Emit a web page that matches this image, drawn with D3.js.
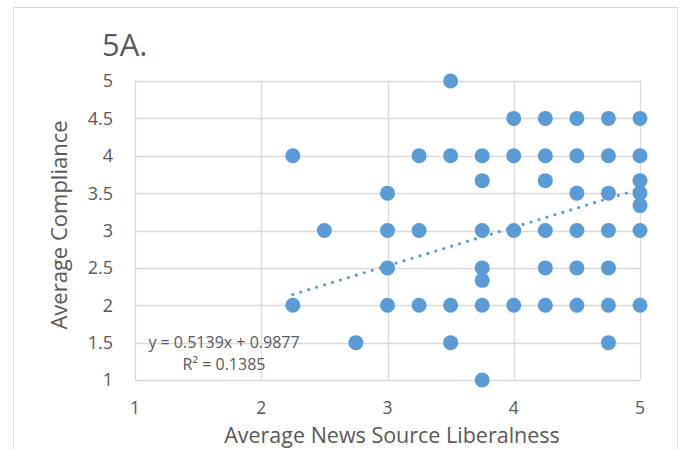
<!DOCTYPE html>
<html>
<head>
<meta charset="utf-8">
<script src="https://cdn.jsdelivr.net/npm/d3@7"></script>
<style>
  body { margin: 0; background: #fff; }
  svg { display: block; font-family: "Open Sans", sans-serif; }
</style>
</head>
<body>
<svg id="chart" width="684" height="450"></svg>
<script>
// points
const liberalness = [
    3.5,
    4, 4.25, 4.5, 4.75, 5,
    2.25, 3.25, 3.5, 3.75, 4, 4.25, 4.5, 4.75, 5,
    3.75, 4.25, 5,
    3, 4.5, 4.75, 5,
    5,
    2.5, 3, 3.25, 3.75, 4, 4.25, 4.5, 4.75, 5,
    3, 3.75, 4.25, 4.5, 4.75,
    3.75,
    2.25, 3, 3.25, 3.5, 3.75, 4, 4.25, 4.5, 4.75, 5,
    2.75, 3.5, 4.75,
    3.75
];
const compliance = [
    5,
    4.5, 4.5, 4.5, 4.5, 4.5,
    4, 4, 4, 4, 4, 4, 4, 4, 4,
    3.667, 3.667, 3.667,
    3.5, 3.5, 3.5, 3.5,
    3.333,
    3, 3, 3, 3, 3, 3, 3, 3, 3,
    2.5, 2.5, 2.5, 2.5, 2.5,
    2.333,
    2, 2, 2, 2, 2, 2, 2, 2, 2, 2,
    1.5, 1.5, 1.5,
    1
];
const xTicks = [1, 2, 3, 4, 5];
const yTicks = [1, 1.5, 2, 2.5, 3, 3.5, 4, 4.5, 5];
const trend = { slope: 0.5139, intercept: 0.9877, from: 2.25, to: 5 };
const trendLabels = ['y = 0.5139x + 0.9877', 'R² = 0.1385'];

const svg = d3.select('#chart');
const grey = '#d9d9d9';
const text = '#595959';
const blue = '#5b9bd5';

// outer chart frame
svg.append('rect')
    .attr('x', 13.5).attr('y', 7.5)
    .attr('width', 664).attr('height', 460)
    .attr('fill', 'none')
    .attr('stroke', grey)
    .attr('stroke-width', 1);

const x = d3.scaleLinear().domain([1, 5]).range([135, 640]);
const y = d3.scaleLinear().domain([1, 5]).range([380, 81]);

const grid = svg.append('g');
grid.selectAll('.hy')
    .data(yTicks)
    .enter()
    .append('line')
    .attr('x1', x(1)).attr('x2', x(5))
    .attr('y1', d => Math.round(y(d)) + 0.5)
    .attr('y2', d => Math.round(y(d)) + 0.5)
    .attr('stroke', grey)
    .attr('stroke-width', 1.3);
grid.selectAll('.vx')
    .data(xTicks)
    .enter()
    .append('line')
    .attr('y1', y(1)).attr('y2', y(5))
    .attr('x1', d => Math.round(x(d)) + 0.5)
    .attr('x2', d => Math.round(x(d)) + 0.5)
    .attr('stroke', grey)
    .attr('stroke-width', 1.3);

// tick labels
svg.append('g').selectAll('text')
    .data(yTicks)
    .enter()
    .append('text')
    .attr('x', 113)
    .attr('y', d => y(d))
    .attr('dy', '0.36em')
    .attr('text-anchor', 'end')
    .attr('font-size', 18)
    .attr('fill', text)
    .text(d => d);

svg.append('g').selectAll('text')
    .data(xTicks)
    .enter()
    .append('text')
    .attr('x', d => x(d))
    .attr('y', 414)
    .attr('text-anchor', 'middle')
    .attr('font-size', 17.5)
    .attr('fill', text)
    .text(d => d);

// titles
svg.append('text')
    .attr('x', 102)
    .attr('y', 56)
    .attr('font-size', 31)
    .attr('fill', text)
    .text('5A.');

svg.append('text')
    .attr('x', 392)
    .attr('y', 443)
    .attr('text-anchor', 'middle')
    .attr('font-size', 21.5)
    .attr('fill', text)
    .text('Average News Source Liberalness');

svg.append('text')
    .attr('transform', 'translate(67, 225) rotate(-90)')
    .attr('text-anchor', 'middle')
    .attr('font-size', 22)
    .attr('fill', text)
    .text('Average Compliance');

// points
svg.append('g').selectAll('circle')
    .data(liberalness.map((v, i) => ({ x: v, y: compliance[i] })))
    .enter()
    .append('circle')
    .attr('cx', d => x(d.x))
    .attr('cy', d => y(d.y))
    .attr('r', 7.5)
    .attr('fill', blue);

// linear trendline
svg.append('line')
    .attr('x1', x(trend.from))
    .attr('y1', y(trend.slope * trend.from + trend.intercept))
    .attr('x2', x(trend.to))
    .attr('y2', y(trend.slope * trend.to + trend.intercept))
    .attr('stroke', blue)
    .attr('stroke-width', 3.2)
    .attr('stroke-linecap', 'round')
    .attr('stroke-dasharray', '0 8.3');

svg.append('g').selectAll('text')
    .data(trendLabels)
    .enter()
    .append('text')
    .attr('x', 224)
    .attr('y', (d, i) => 348 + i * 22)
    .attr('text-anchor', 'middle')
    .attr('font-size', 16)
    .attr('fill', text)
    .text(d => d);
</script>
</body>
</html>
